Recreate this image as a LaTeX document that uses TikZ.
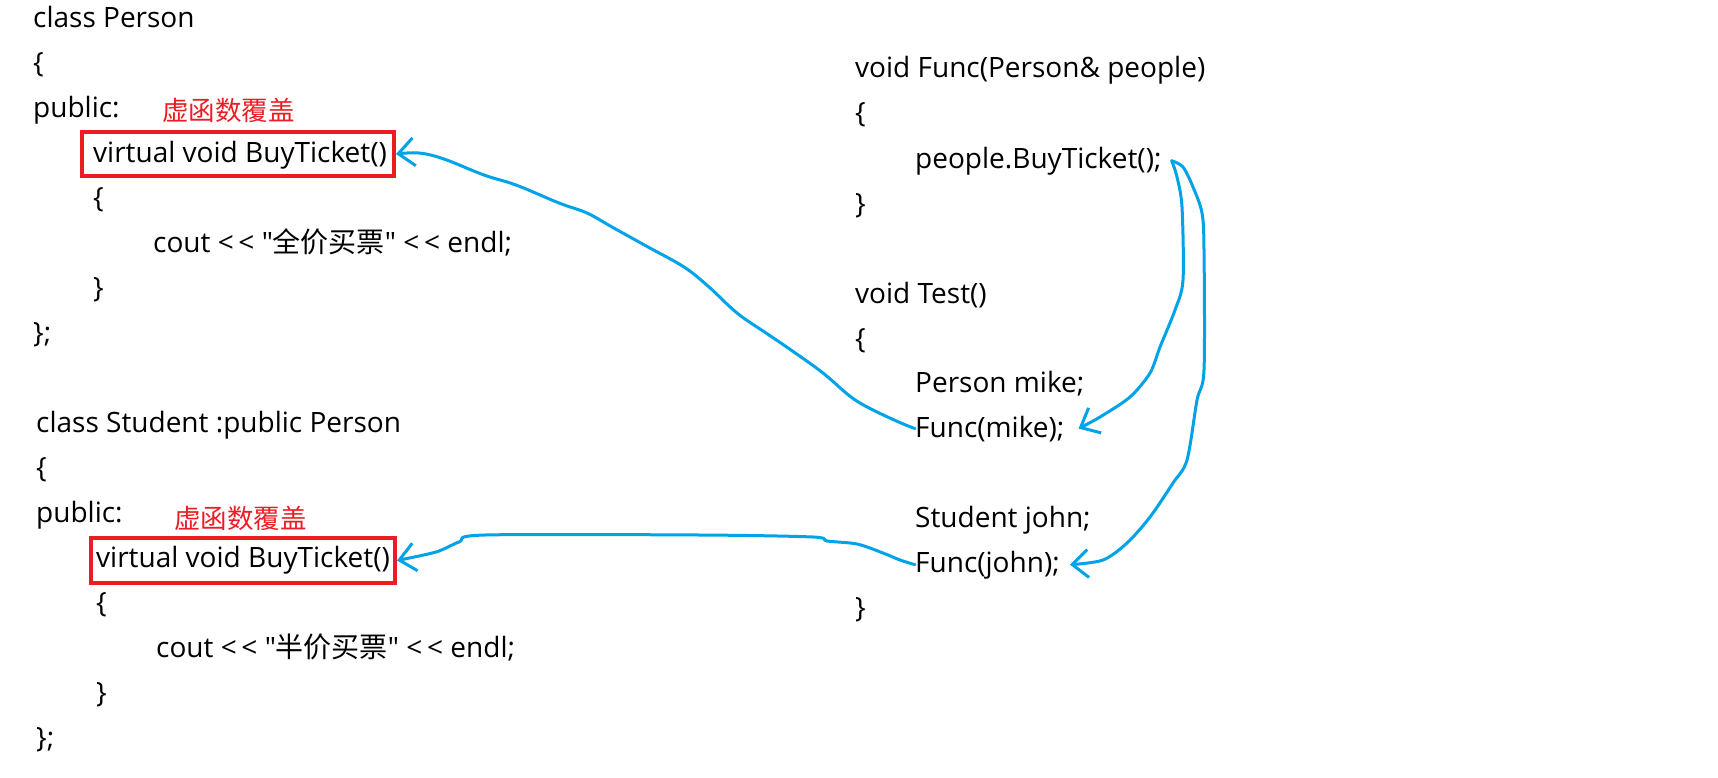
\documentclass[tikz,border=0pt]{standalone}
\usepackage{fontspec}
\setmainfont{Open Sans}[Ligatures=TeXOff]
\newfontfamily\cjk{Noto Sans CJK SC}[Ligatures=TeXOff]
\usetikzlibrary{arrows.meta}
\definecolor{penblue}{RGB}{0,162,232}
\definecolor{markred}{RGB}{236,28,36}
\tikzset{
  code/.style={anchor=base west, inner sep=0pt, font=\fontsize{28}{34}\selectfont},
  note/.style={anchor=west, inner sep=0pt, text=markred, font=\cjk\fontsize{26.5}{30}\selectfont},
  hlbox/.style={draw=markred, line width=4pt, anchor=north west, inner sep=0pt},
  pen/.style={draw=penblue, line width=3pt, line cap=round, line join=round,
    -{Straight Barb[length=16pt,width=28pt]}}
}

\begin{document}
\begin{tikzpicture}[x=1pt,y=-1pt]
  \useasboundingbox (0,0) rectangle (1718,777);

  % class Person
  \node[code] (p1) at (33,27) {class Person};
  \node[code] (p2) at (33,72) {\{};
  \node[code] (p3) at (33,117) {public:};
  \node[note] (n1) at (162,110) {虚函数覆盖};
  \node[hlbox, minimum width=312pt, minimum height=44pt] (box1) at (80,130) {};
  \node[code] (p4) at (93,162) {virtual void BuyTicket()};
  \node[code] (p5) at (93,207) {\{};
  \node[code] (p6) at (153,252) {cout <\,< "{\cjk 全价买票}" <\,< endl;};
  \node[code] (p7) at (93,297) {\}};
  \node[code] (p8) at (33,342) {\};};

  % class Student
  \node[code] (s1) at (36,432) {class Student :public Person};
  \node[code] (s2) at (36,477) {\{};
  \node[code] (s3) at (36,522) {public:};
  \node[note] (n2) at (174,518) {虚函数覆盖};
  \node[hlbox, minimum width=304pt, minimum height=45pt] (box2) at (89,536) {};
  \node[code] (s4) at (96,567) {virtual void BuyTicket()};
  \node[code] (s5) at (96,612) {\{};
  \node[code] (s6) at (156,657) {cout <\,< "{\cjk 半价买票}" <\,< endl;};
  \node[code] (s7) at (96,702) {\}};
  \node[code] (s8) at (36,747) {\};};

  % Func and Test
  \node[code] (f1) at (855,77) {void Func(Person\& people)};
  \node[code] (f2) at (855,122) {\{};
  \node[code] (call) at (915,168) {people.BuyTicket();};
  \node[code] (f3) at (855,213) {\}};
  \node[code] (t1) at (855,303) {void Test()};
  \node[code] (t2) at (855,348) {\{};
  \node[code] (mikedecl) at (915,392) {Person mike;};
  \node[code] (mike) at (915,437) {Func(mike);};
  \node[code] (johndecl) at (915,527) {Student john;};
  \node[code] (john) at (915,572) {Func(john);};
  \node[code] (t3) at (855,617) {\}};

  \coordinate (fork) at ([xshift=10pt]call.east);

  \draw[pen] plot[smooth, tension=.6] coordinates {(mike.west) (901,423) (873,410) (851,397)
    (823,373) (791,350) (766,333) (737,313) (709,287) (684,267) (648,247) (612,227)
    (587,213) (559,203) (516,185) (484,175) (444,159) (419,153) (box1.east)};
  \draw[pen] plot[smooth, tension=.5] coordinates {(john.west) (900,560) (883,553) (857,544)
    (827,541) (813,537) (700,535) (485,535) (459,542) (436,552) (box2.east)};
  \draw[pen] plot[smooth, tension=.5] coordinates {(fork) (1177,177) (1182,207) (1183,280)
    (1175,310) (1160,347) (1150,373) (1130,397) (1100,417) ([xshift=14pt]mike.east)};
  \draw[pen] plot[smooth, tension=.5] coordinates {(fork) (1183,167) (1193,187) (1202,213)
    (1204,250) (1204,370) (1197,400) (1187,460) (1173,483) (1150,517) (1127,543)
    (1103,560) ([xshift=10pt]john.east)};
\end{tikzpicture}
\end{document}
